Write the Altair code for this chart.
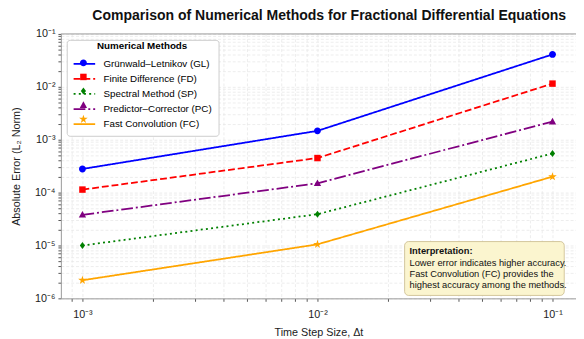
import altair as alt
import pandas as pd

dt = [1e-3, 1e-2, 1e-1]
methods = ["Grünwald–Letnikov (GL)", "Finite Difference (FD)", "Spectral Method (SP)",
           "Predictor–Corrector (PC)", "Fast Convolution (FC)"]
err_gl = [2.8e-4, 1.47e-3, 4.1e-2]
err_fd = [1.14e-4, 4.5e-4, 1.15e-2]
err_sp = [1.0e-5, 3.9e-5, 5.5e-4]
err_pc = [3.8e-5, 1.5e-4, 2.2e-3]
err_fc = [2.2e-6, 1.05e-5, 2.0e-4]
colors = ["#0000ff", "#ff0000", "#008000", "#800080", "#ffa500"]
dashes = [[1, 0], [7, 3], [2, 3.3], [12, 3, 2, 3], [1, 0]]
circle = "M0.64,0A0.64,0.64,0,1,1,-0.64,0A0.64,0.64,0,1,1,0.64,0Z"
square = "M-0.6,-0.6H0.6V0.6H-0.6Z"
diamond = "M0,-0.64L0.48,0L0,0.64L-0.48,0Z"
triangle = "M0,-0.72L0.68,0.52L-0.68,0.52Z"
star = ("M0,-0.84L0.19,-0.26L0.8,-0.26L0.3,0.1L0.49,0.68L0,0.32L-0.49,0.68L-0.3,0.1"
        "L-0.8,-0.26L-0.19,-0.26Z")
shapes = [circle, square, diamond, triangle, star]
methods2 = [m + " " for m in methods]

x_ticks = [9e-4] + [k * 1e-3 for k in range(1, 10)] + [k * 1e-2 for k in range(1, 10)] + [1e-1]
y_ticks = [k * 10.0 ** e for e in range(-6, -1) for k in range(1, 10)] + [1e-1]

ann_lines = ["Interpretation:", "Lower error indicates higher accuracy.",
             "Fast Convolution (FC) provides the", "highest accuracy among the methods."]

rows = []
for m, m2, errs in zip(methods, methods2, [err_gl, err_fd, err_sp, err_pc, err_fc]):
    for d, e in zip(dt, errs):
        rows.append({"dt": d, "err": e, "Method": m, "Method2": m2})
df = pd.DataFrame(rows)

FONT = "Liberation Sans"
sup_expr = ("(abs(log(datum.value)/LN10 - round(log(datum.value)/LN10)) < 1e-6) ? "
            "'10⁻' + ['⁰','¹','²','³','⁴','⁵','⁶','⁷'][-round(log(datum.value)/LN10)] : ''")

x = alt.X("dt:Q", title="Time Step Size, Δt",
          scale=alt.Scale(type="log", domain=[10 ** -3.0917, 10 ** -0.9], nice=False),
          axis=alt.Axis(values=x_ticks, labelExpr=sup_expr, grid=True, titlePadding=7, labelPadding=8))
y = alt.Y("err:Q", title="Absolute Error (L₂ Norm)",
          scale=alt.Scale(type="log", domain=[1e-6, 1e-1], nice=False),
          axis=alt.Axis(values=y_ticks, labelExpr=sup_expr, grid=True, titlePadding=13))

legend_common = dict(orient="none", legendX=6, legendY=6, symbolSize=121, symbolOffset=5.5,
                     labelFontSize=10, labelFont=FONT, labelOffset=13, titleFont=FONT,
                     titleFontSize=10, titleFontWeight="bold", titleAnchor="middle",
                     titleBaseline="middle", padding=6, rowPadding=3.4, titlePadding=2)

lines = alt.Chart(df).mark_line(strokeWidth=1.8).encode(
    x=x, y=y,
    color=alt.Color("Method:N", scale=alt.Scale(domain=methods, range=colors),
                    legend=alt.Legend(title="Numerical Methods", symbolType="M-2,0H2",
                                      symbolStrokeWidth=1.8, fillColor="white",
                                      strokeColor="#cccccc", cornerRadius=3, zindex=0,
                                      **legend_common)),
    strokeDash=alt.StrokeDash("Method:N", scale=alt.Scale(domain=methods, range=dashes),
                              legend=alt.Legend(title="Numerical Methods")),
)

points = alt.Chart(df).mark_point(filled=True, size=121, opacity=1).encode(
    x=x, y=y,
    fill=alt.Fill("Method2:N", scale=alt.Scale(domain=methods2, range=colors),
                  legend=alt.Legend(title="Numerical Methods.", symbolStrokeWidth=0, symbolOpacity=1,
                                    labelColor="transparent", titleColor="transparent", zindex=1,
                                    **legend_common)),
    shape=alt.Shape("Method2:N", scale=alt.Scale(domain=methods2, range=shapes),
                    legend=alt.Legend(title="Numerical Methods.")),
)

one = "datum.dt == 0.001 && datum.Method == 'Fast Convolution (FC)'"

box = alt.Chart(df).transform_filter(one).mark_rect(
    fill="#fbf5cf", stroke="#c8b98a", strokeWidth=0.8, cornerRadius=4).encode(
    x=alt.value(351), x2=alt.value(514), y=alt.value(212), y2=alt.value(267))

ann_layers = []
for i, t in enumerate(ann_lines):
    ann_layers.append(
        alt.Chart(pd.DataFrame({"t": [t]})).mark_text(
            align="left", baseline="middle", font=FONT, fontSize=9.5,
            fontWeight="bold" if i == 0 else "normal", color="#111"
        ).encode(x=alt.value(356), y=alt.value(222 + 11.6 * i), text="t:N")
    )

top_line = alt.Chart(df).transform_filter(one).mark_rule(color="#999999", strokeWidth=1).encode(
    x=alt.value(0), x2=alt.value(526), y=alt.value(0))

chart = alt.layer(lines, points, top_line, box, *ann_layers).properties(
    width=526, height=270,
    autosize=alt.AutoSizeParams(type="none"),
    padding={"left": 54, "top": 23, "right": 0, "bottom": 38},
    title=alt.Title("Comparison of Numerical Methods for Fractional Differential Equations",
                    font=FONT, fontSize=14.3, fontWeight="bold", color="#111", anchor="middle",
                    offset=4.5, dx=11),
).configure_view(stroke=None).configure_axis(
    labelFont=FONT, titleFont=FONT, labelFontSize=11, titleFontSize=11, labelColor="#222",
    titleColor="#222", titleFontWeight="normal", domainColor="#999999", tickColor="#555555", tickSize=3,
    gridColor="#e4e4e4", gridDash=[3, 2], gridWidth=0.7, labelPadding=3,
)

chart.save("out.html", embed_options={"renderer": "svg", "actions": False})
